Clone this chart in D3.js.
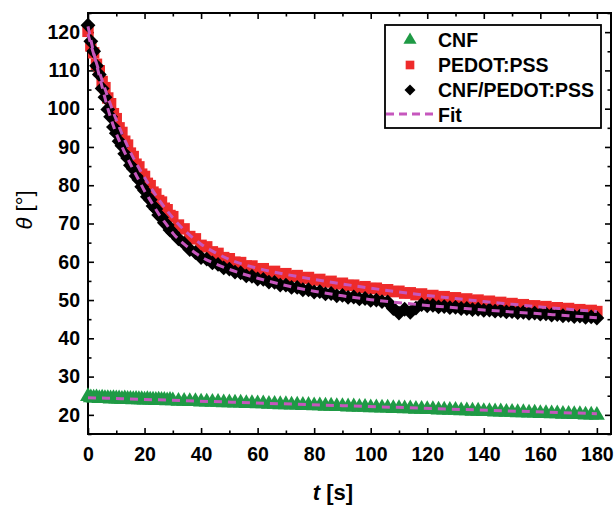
<!DOCTYPE html>
<html>
<head>
<meta charset="utf-8">
<script src="https://cdn.jsdelivr.net/npm/d3@7"></script>
<style>
  body { margin: 0; background: #fff; }
  svg { display: block; font-family: "Liberation Sans", Arial, sans-serif; }
</style>
</head>
<body>
<svg width="616" height="506"></svg>
<script>
// time points of the measured series [s]
var times = [0, 1, 2, 3, 4, 5, 6, 7, 8, 9, 10, 11, 12, 13, 14, 15, 16, 17, 18, 19, 20,
  21, 22, 23, 24, 25, 26, 27, 28, 29, 30,
  32, 34, 36, 38, 40, 42, 44, 46, 48, 50, 52, 54, 56, 58, 60, 62, 64, 66, 68, 70,
  72, 74, 76, 78, 80, 82, 84, 86, 88, 90, 92, 94, 96, 98, 100, 102, 104, 106, 108, 110,
  112, 114, 116, 118, 120, 122, 124, 126, 128, 130, 132, 134, 136, 138, 140, 142, 144, 146, 148, 150,
  152, 154, 156, 158, 160, 162, 164, 166, 168, 170, 172, 174, 176, 178, 180];

var cnfVals = [24.8, 24.5, 24.4, 24.5, 24.3, 24.4, 24.3, 24.3, 24.2, 24.3, 24.2, 24.2, 24.1, 24.2, 24.1, 24.1, 24.0, 24.1, 24.0, 24.0, 23.9,
  24.0, 23.9, 23.9, 23.8, 23.9, 23.8, 23.8, 23.7, 23.8, 23.7,
  23.6, 23.6, 23.5, 23.5, 23.4, 23.4, 23.3, 23.3, 23.2, 23.2, 23.1, 23.1, 23.0, 23.0, 22.9, 22.9, 22.8, 22.8, 22.7, 22.7,
  22.6, 22.6, 22.5, 22.5, 22.4, 22.4, 22.3, 22.3, 22.2, 22.2, 22.1, 22.1, 22.0, 22.0, 21.9, 21.9, 21.8, 21.8, 21.7, 21.7,
  21.6, 21.6, 21.5, 21.5, 21.4, 21.4, 21.3, 21.3, 21.2, 21.2, 21.1, 21.1, 21.0, 21.0, 20.9, 20.9, 20.8, 20.8, 20.7, 20.7,
  20.6, 20.6, 20.5, 20.5, 20.4, 20.4, 20.3, 20.3, 20.2, 20.2, 20.1, 20.1, 20.0, 20.0, 19.9];

var pedotVals = [120.2, 116.4, 114.6, 111.6, 109.9, 107.1, 105.5, 102.8, 101.3, 98.7, 97.4, 95.0, 93.8, 91.5, 90.5, 88.4, 87.5, 85.5, 84.8, 82.9, 82.3,
  80.5, 79.9, 78.2, 77.7, 76.0, 75.6, 74.0, 73.6, 72.1, 71.8,
  69.6, 68.6, 66.6, 66.0, 64.3, 63.9, 62.6, 62.2, 61.1, 60.8, 59.9, 59.8, 58.9, 58.9, 58.1, 58.2, 57.4, 57.5, 56.8, 56.9,
  56.2, 56.4, 55.7, 55.9, 55.2, 55.4, 54.7, 54.9, 54.2, 54.4, 53.8, 53.9, 53.3, 53.5, 53.0, 53.1, 52.6, 52.7, 52.2, 52.3,
  51.8, 51.9, 51.4, 51.6, 51.1, 51.2, 50.8, 50.9, 50.5, 50.6, 50.1, 50.3, 49.8, 50.0, 49.5, 49.7, 49.2, 49.4, 48.9, 49.1,
  48.7, 48.8, 48.4, 48.5, 48.1, 48.3, 47.8, 48.0, 47.6, 47.8, 47.4, 47.5, 47.2, 47.3, 47.0];

var compVals = [121.8, 117.6, 115.0, 111.2, 108.9, 105.3, 103.0, 99.8, 97.9, 95.2, 93.6, 91.5, 90.3, 88.2, 87.1, 85.2, 84.3, 82.4, 81.4, 79.6, 78.6,
  77.0, 76.2, 74.6, 73.8, 72.2, 71.6, 70.2, 69.6, 68.3, 67.6,
  66.0, 64.8, 63.2, 62.4, 61.1, 60.7, 59.7, 59.3, 58.4, 58.1, 57.3, 57.1, 56.3, 56.2, 55.5, 55.4, 54.7, 54.6, 53.9, 53.9,
  53.3, 53.3, 52.7, 52.7, 52.1, 52.2, 51.6, 51.7, 51.1, 51.2, 50.7, 50.8, 50.3, 50.4, 49.9, 50.0, 49.6, 49.5, 47.8, 46.6,
  47.6, 46.8, 47.9, 48.8, 48.5, 48.6, 48.2, 48.3, 48.0, 48.1, 47.8, 47.8, 47.5, 47.6, 47.3, 47.4, 47.1, 47.2, 46.9, 47.0,
  46.7, 46.8, 46.5, 46.6, 46.3, 46.4, 46.1, 46.2, 45.9, 46.0, 45.7, 45.8, 45.5, 45.6, 45.3];

// fitted curves
var fitTimes = [0, 1, 2, 3, 4, 5, 6, 7, 8, 9, 10, 12, 14, 16, 18, 20, 22, 25, 28, 30, 35, 40, 45, 50,
  60, 70, 80, 90, 100, 110, 120, 130, 140, 150, 160, 170, 180];
var pedotFit = [119.5, 116.8, 114.3, 111.9, 109.6, 107.4, 105.2, 103.1, 101.0, 99.0, 97.1, 93.5, 90.2, 87.2, 84.5, 82.0, 79.6, 76.3, 73.3, 71.5, 67.6, 64.6, 62.4, 60.6,
  58.3, 56.7, 55.4, 54.2, 53.1, 52.1, 51.2, 50.4, 49.6, 48.9, 48.2, 47.6, 47.0];
var compFit = [121.5, 118.0, 114.7, 111.6, 108.6, 105.7, 102.8, 100.1, 97.7, 95.5, 93.5, 90.1, 87.0, 84.1, 81.3, 78.5, 76.1, 72.5, 69.5, 67.5, 64.0, 61.3, 59.5, 58.0,
  55.7, 53.8, 52.3, 51.1, 50.1, 49.3, 48.6, 48.0, 47.4, 46.9, 46.4, 45.9, 45.4];
var cnfFitTimes = [0, 90, 180];
var cnfFit = [24.5, 22.4, 20.3];

var xTicks = [0, 20, 40, 60, 80, 100, 120, 140, 160, 180];
var xMinor = [10, 30, 50, 70, 90, 110, 130, 150, 170];
var yTicks = [20, 30, 40, 50, 60, 70, 80, 90, 100, 110, 120];
var yMinor = [15, 25, 35, 45, 55, 65, 75, 85, 95, 105, 115, 125];

var legendNames = ["CNF", "PEDOT:PSS", "CNF/PEDOT:PSS", "Fit"];

var green = "#1f9a45", red = "#ee2b2b", black = "#000", fitColor = "#c657bd";

var svg = d3.select("svg"),
  margin = { top: 13, right: 5, bottom: 72, left: 88 },
  width = +svg.attr("width") - margin.left - margin.right,
  height = +svg.attr("height") - margin.top - margin.bottom;

var xScale = d3.scaleLinear().domain([0, 185]).range([0, width]);
var yScale = d3.scaleLinear().domain([15, 125]).range([height, 0]);

var g = svg.append("g")
  .attr("transform", "translate(" + margin.left + "," + margin.top + ")");

// axes with inward ticks on all four sides
function styleAxis(sel) {
  sel.select(".domain").remove();
  sel.selectAll("line").attr("stroke", "#000").attr("stroke-width", 1.6);
  sel.selectAll("text")
    .attr("fill", "#000")
    .style("font-size", "19.5px")
    .style("font-weight", "bold");
}

g.append("g").attr("transform", "translate(0," + height + ")")
  .call(d3.axisBottom(xScale).tickValues(xTicks).tickSizeInner(-6).tickSizeOuter(0).tickPadding(13))
  .call(styleAxis);
g.append("g").attr("transform", "translate(0," + height + ")")
  .call(d3.axisBottom(xScale).tickValues(xMinor).tickSizeInner(-3.5).tickSizeOuter(0).tickFormat(""))
  .call(styleAxis);
g.append("g")
  .call(d3.axisTop(xScale).tickValues(xTicks).tickSizeInner(-6).tickSizeOuter(0).tickFormat(""))
  .call(styleAxis);
g.append("g")
  .call(d3.axisTop(xScale).tickValues(xMinor).tickSizeInner(-3.5).tickSizeOuter(0).tickFormat(""))
  .call(styleAxis);

g.append("g")
  .call(d3.axisLeft(yScale).tickValues(yTicks).tickSizeInner(-6).tickSizeOuter(0).tickPadding(8))
  .call(styleAxis);
g.append("g")
  .call(d3.axisLeft(yScale).tickValues(yMinor).tickSizeInner(-3.5).tickSizeOuter(0).tickFormat(""))
  .call(styleAxis);
g.append("g").attr("transform", "translate(" + width + ",0)")
  .call(d3.axisRight(yScale).tickValues(yTicks).tickSizeInner(-6).tickSizeOuter(0).tickFormat(""))
  .call(styleAxis);
g.append("g").attr("transform", "translate(" + width + ",0)")
  .call(d3.axisRight(yScale).tickValues(yMinor).tickSizeInner(-3.5).tickSizeOuter(0).tickFormat(""))
  .call(styleAxis);

g.append("rect")
  .attr("width", width)
  .attr("height", height)
  .attr("fill", "none")
  .attr("stroke", "#000")
  .attr("stroke-width", 2);

// scatter series
var triangle = d3.symbol().type(d3.symbolTriangle).size(110);
var square = d3.symbol().type(d3.symbolSquare).size(130);
var diamond = d3.symbol().type(d3.symbolSquare).size(110);
var legTriangle = d3.symbol().type(d3.symbolTriangle).size(75);
var legSquare = d3.symbol().type(d3.symbolSquare).size(75);
var legDiamond = d3.symbol().type(d3.symbolSquare).size(60);

function drawSeries(vals, sym, color, rot) {
  g.append("g").selectAll("path")
    .data(vals)
    .enter()
    .append("path")
    .attr("d", sym)
    .attr("fill", color)
    .attr("transform", function (d, i) {
      return "translate(" + xScale(times[i]) + "," + yScale(d) + ")" + (rot ? " rotate(45)" : "");
    });
}

drawSeries(cnfVals, triangle, green, false);
drawSeries(pedotVals, square, red, false);
drawSeries(compVals, diamond, black, true);

// fit lines
function drawFit(ts, vals) {
  var line = d3.line()
    .x(function (d, i) { return xScale(ts[i]); })
    .y(function (d) { return yScale(d); })
    .curve(d3.curveMonotoneX);
  g.append("path")
    .datum(vals)
    .attr("fill", "none")
    .attr("stroke", fitColor)
    .attr("stroke-width", 3)
    .attr("stroke-dasharray", "8,6")
    .attr("d", line);
}
drawFit(cnfFitTimes, cnfFit);
drawFit(fitTimes, pedotFit);
drawFit(fitTimes, compFit);

// legend
var leg = svg.append("g").attr("transform", "translate(385,25)");
leg.append("rect")
  .attr("width", 216)
  .attr("height", 103)
  .attr("fill", "#fff")
  .attr("stroke", "#000")
  .attr("stroke-width", 1.8);

var legSyms = [
  { sym: legTriangle, color: green, rot: false },
  { sym: legSquare, color: red, rot: false },
  { sym: legDiamond, color: black, rot: true }
];
legSyms.forEach(function (s, i) {
  leg.append("path")
    .attr("d", s.sym)
    .attr("fill", s.color)
    .attr("transform", "translate(25," + (15 + i * 25) + ")" + (s.rot ? " rotate(45)" : ""));
});
leg.append("line")
  .attr("x1", 1).attr("x2", 48)
  .attr("y1", 89).attr("y2", 89)
  .attr("stroke", fitColor)
  .attr("stroke-width", 3)
  .attr("stroke-dasharray", "8,5");

leg.selectAll("text.lbl")
  .data(legendNames)
  .enter()
  .append("text")
  .attr("class", "lbl")
  .attr("x", 53)
  .attr("y", function (d, i) { return 22 + i * 25; })
  .style("font-size", "19.5px")
  .style("font-weight", "bold")
  .text(function (d) { return d; });

// axis titles
var xt = svg.append("text")
  .attr("x", 333)
  .attr("y", 500)
  .attr("text-anchor", "middle")
  .style("font-size", "22px")
  .style("font-weight", "bold");
xt.append("tspan").style("font-style", "italic").text("t");
xt.append("tspan").text(" [s]");

var yt = svg.append("text")
  .attr("transform", "translate(32,210) rotate(-90)")
  .attr("text-anchor", "middle")
  .style("font-size", "22px");
yt.append("tspan").style("font-style", "italic").text("θ");
yt.append("tspan").text(" [°]");
</script>
</body>
</html>
